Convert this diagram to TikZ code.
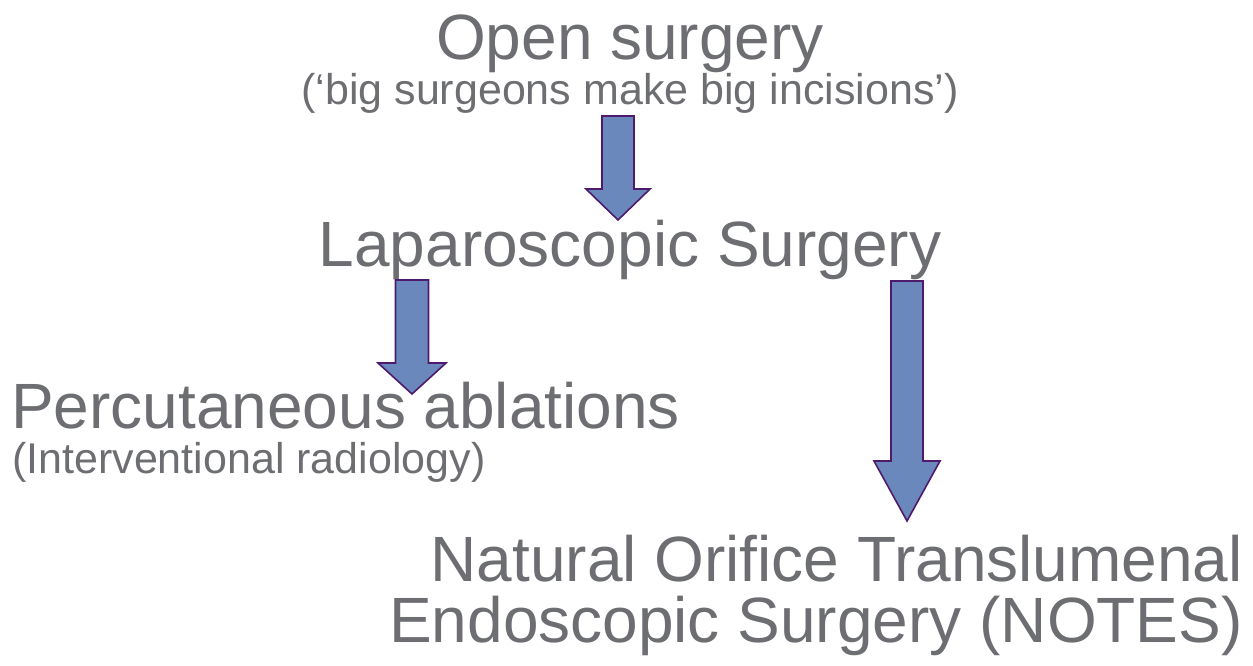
\documentclass[tikz,border=0pt]{standalone}
\usepackage{fontspec}
\setmainfont{Liberation Sans}
\usetikzlibrary{calc}
\definecolor{textgray}{RGB}{109,110,113}
\definecolor{arrowfill}{RGB}{106,136,187}
\definecolor{arrowline}{RGB}{78,26,110}
\tikzset{
  bigtext/.style={text=textgray, inner sep=0pt, font=\fontsize{64}{61}\selectfont},
  smalltext/.style={text=textgray, inner sep=0pt, font=\fontsize{43}{45}\selectfont},
  blockarrow/.style={fill=arrowfill, draw=arrowline, line width=1.6pt, line join=miter}
}
% block arrow pointing down: [head length]{top}{tip}{shaft half width}{head half width}
\newcommand{\blockdown}[5][31]{%
  \draw[blockarrow] let \p1=(#2), \p2=(#3) in
    (\x1-#4pt,\y1) -- (\x1+#4pt,\y1) -- (\x1+#4pt,\y2+#1pt) -- (\x1+#5pt,\y2+#1pt)
    -- (\x2,\y2) -- (\x1-#5pt,\y2+#1pt) -- (\x1-#4pt,\y2+#1pt) -- cycle;}
\begin{document}
\begin{tikzpicture}[x=1pt,y=-1pt]
  \useasboundingbox (0,0) rectangle (1253,666);
  % texts
  \node[bigtext, anchor=base] (open) at (630,60) {Open surgery};
  \node[smalltext, anchor=base] (opensub) at (630,105) {(‘big surgeons make big incisions’)};
  \node[bigtext, anchor=base] (lap) at (630,266) {Laparoscopic Surgery};
  \node[bigtext, anchor=base west] (perc) at (11,428) {Percutaneous ablations};
  \node[smalltext, anchor=base west] (percsub) at (12,473) {(Interventional radiology)};
  \node[bigtext, anchor=north east, align=right] (notes) at (1243,535)
    {Natural Orifice Translumenal\\Endoscopic Surgery (NOTES)};
  % arrow ends
  \coordinate (a1top) at (618,116);
  \coordinate (a1tip) at (618,220);
  \coordinate (a2top) at (412,280);
  \coordinate (a2tip) at (412,394);
  \coordinate (a3top) at (907,281);
  \coordinate (a3tip) at (907,521);
  % arrows
  \blockdown{a1top}{a1tip}{16}{32}
  \blockdown{a2top}{a2tip}{16.5}{34}
  \blockdown[60]{a3top}{a3tip}{16}{33}
\end{tikzpicture}
\end{document}
